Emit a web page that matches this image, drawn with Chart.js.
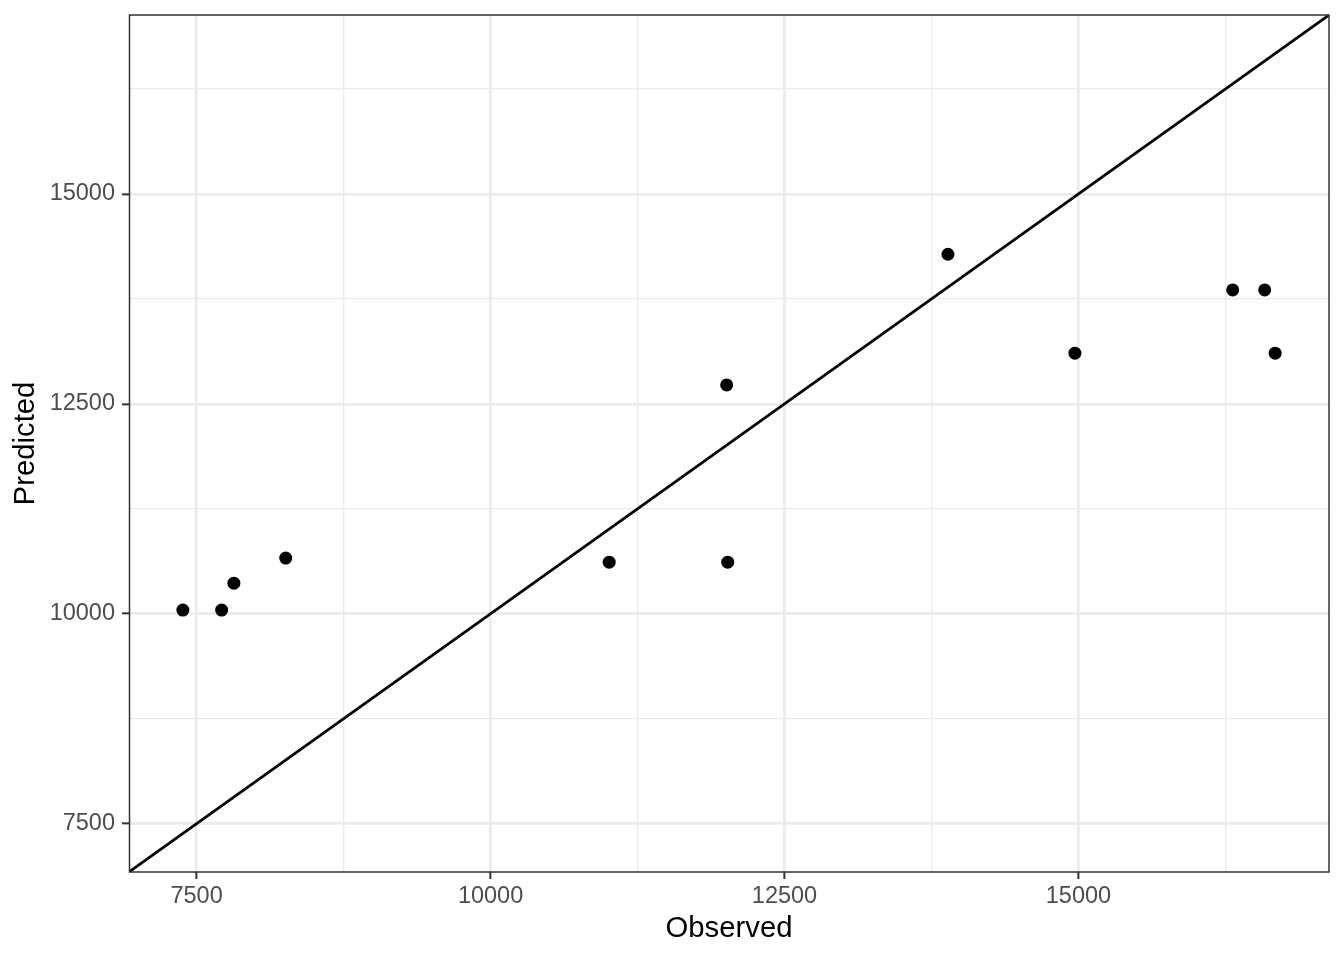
<!DOCTYPE html>
<html>
<head>
<meta charset="utf-8">
<script src="https://cdn.jsdelivr.net/npm/chart.js@4/dist/chart.umd.min.js"></script>
<style>
  html, body { margin: 0; padding: 0; background: #ffffff; }
  #wrap { width: 1344px; height: 960px; }
</style>
</head>
<body>
<div id="wrap"><canvas id="c" width="1344" height="960"></canvas></div>
<script>
// ---- data ----
const observed  = [7383, 7713, 7817, 8258, 11009, 12008, 12017, 13890, 14970, 16312, 16584, 16673];
const predicted = [10044, 10044, 10365, 10663, 10615, 12726, 10615, 14282, 13104, 13857, 13857, 13104];
const axisLimits = [6925, 17131];          // shared x/y limits
const identityLine = [6925, 17131];        // y = x reference line ends
const tickValues = [7500, 8750, 10000, 11250, 12500, 13750, 15000, 16250];
const labelStep = 2500;
const xTitle = 'Observed';
const yTitle = 'Predicted';

const FONT = "'Liberation Sans', Arial, Helvetica, sans-serif";

const points = observed.map((o, i) => ({ x: o, y: predicted[i] }));
const lineData = identityLine.map(v => ({ x: v, y: v }));

const isMajor = v => Math.abs(v % labelStep) < 1e-6;

function setTicks(scale) {
  scale.ticks = tickValues.map(v => ({ value: v }));
}

const gridOpts = {
  color: '#EBEBEB',
  lineWidth: ctx => (ctx.tick && isMajor(ctx.tick.value)) ? 2.7 : 1.35,
  drawTicks: true,
  tickLength: 7,
  tickWidth: 2,
  tickColor: ctx => (ctx.tick && isMajor(ctx.tick.value)) ? '#333333' : 'rgba(0,0,0,0)'
};

const borderPlugin = {
  id: 'panelBorder',
  afterDatasetsDraw(chart) {
    const a = chart.chartArea;
    const ctx = chart.ctx;
    ctx.save();
    ctx.strokeStyle = '#333333';
    ctx.lineWidth = 1.5;
    ctx.strokeRect(a.left + 0.5, a.top, a.right - a.left - 0.5, a.bottom - a.top);
    ctx.restore();
  }
};

new Chart(document.getElementById('c'), {
  type: 'scatter',
  data: {
    datasets: [
      {
        type: 'line',
        data: lineData,
        borderColor: '#000000',
        borderWidth: 2.7,
        pointRadius: 0,
        fill: false,
        showLine: true,
        order: 2
      },
      {
        data: points,
        backgroundColor: '#000000',
        borderColor: '#000000',
        pointRadius: 6.5,
        pointHoverRadius: 6.5,
        borderWidth: 0,
        order: 1
      }
    ]
  },
  options: {
    responsive: false,
    animation: false,
    devicePixelRatio: 1,
    layout: { padding: { left: 0, top: 15, right: 15, bottom: 0 } },
    plugins: { legend: { display: false }, tooltip: { enabled: false } },
    scales: {
      x: {
        type: 'linear',
        min: axisLimits[0],
        max: axisLimits[1],
        afterBuildTicks: setTicks,
        afterFit: s => { s.height = 88; s.paddingLeft = 0; s.paddingRight = 0; },
        grid: gridOpts,
        border: { display: false },
        ticks: {
          autoSkip: false,
          maxRotation: 0,
          padding: 3,
          color: '#4D4D4D',
          font: { family: FONT, size: 23.5 },
          callback: v => isMajor(v) ? String(v) : ''
        },
        title: {
          display: true,
          text: xTitle,
          color: '#000000',
          font: { family: FONT, size: 29.3 },
          padding: { top: 0, bottom: 13.5 }
        }
      },
      y: {
        type: 'linear',
        min: axisLimits[0],
        max: axisLimits[1],
        afterBuildTicks: setTicks,
        afterFit: s => { s.width = 129; s.paddingTop = 0; s.paddingBottom = 0; },
        grid: gridOpts,
        border: { display: false },
        ticks: {
          autoSkip: false,
          padding: 7,
          color: '#4D4D4D',
          font: { family: FONT, size: 23.5 },
          callback: v => isMajor(v) ? String(v) : ''
        },
        title: {
          display: true,
          text: yTitle,
          color: '#000000',
          font: { family: FONT, size: 29.3 },
          padding: { top: 8.5, bottom: 0 }
        }
      }
    }
  },
  plugins: [borderPlugin]
});
</script>
</body>
</html>
